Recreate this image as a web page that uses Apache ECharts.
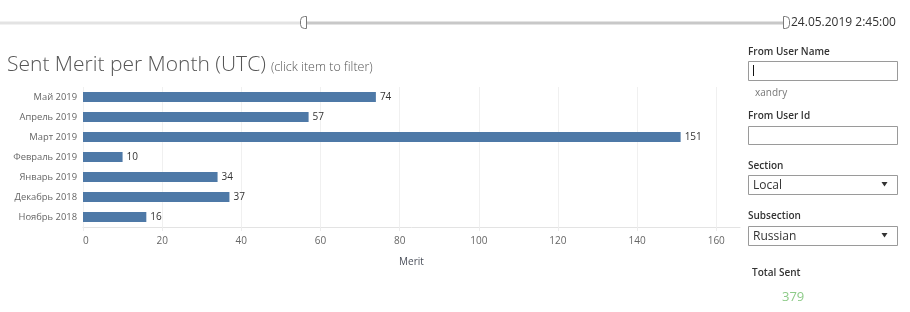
<!DOCTYPE html>
<html>
<head>
<meta charset="utf-8">
<script src="https://cdn.jsdelivr.net/npm/echarts@6/dist/echarts.min.js"></script>
<style>
html,body{margin:0;padding:0;background:#fff;}
#c{width:910px;height:312px;}
</style>
</head>
<body>
<div id="c"></div>
<script>
const months = ['Май 2019','Апрель 2019','Март 2019','Февраль 2019','Январь 2019','Декабрь 2018','Ноябрь 2018'];
const merit = [74, 57, 151, 10, 34, 37, 16];
const xTicks = [0, 20, 40, 60, 80, 100, 120, 140, 160];
const totalSent = 379;
const sliderDate = '24.05.2019 2:45:00';

const FONT = '"Open Sans", "Noto Sans", sans-serif';
const chart = echarts.init(document.getElementById('c'), null, {renderer: 'canvas'});

function label(x, y, text, opts) {
  return {
    type: 'text', left: x, top: y,
    style: Object.assign({text: text, fontFamily: FONT, fontSize: 10, fill: '#333', fontWeight: 600}, opts || {})
  };
}
function box(y, h) {
  return {type: 'rect', shape: {x: 748.5, y: y + 0.5, width: 149, height: h}, style: {fill: '#fff', stroke: '#9a9a9a', lineWidth: 1}};
}

chart.setOption({
  animation: false,
  title: {
    left: 2, top: 50,
    text: '{a|Sent Merit per Month (UTC)} {b|(click item to filter)}',
    textStyle: {
      rich: {
        a: {fontFamily: FONT, fontSize: 21, color: '#555', fontWeight: 300},
        b: {fontFamily: FONT, fontSize: 12.5, color: '#555', fontWeight: 300, padding: [3, 0, 0, 0]}
      }
    }
  },
  grid: [
    {left: 83, right: 170, top: 87, bottom: 85, containLabel: false},
    {left: 83, right: 193.75, top: 87, bottom: 85, containLabel: false}
  ],
  xAxis: [
    {
      type: 'value', gridIndex: 0, min: 0, max: 166, interval: 20,
      axisLine: {show: true, lineStyle: {color: '#e3e3e3', width: 1}},
      axisTick: {show: false},
      splitLine: {show: false},
      axisLabel: {color: '#666', fontFamily: FONT, fontSize: 10, margin: 9, showMaxLabel: false, alignMinLabel: 'left', padding: [0, 0, 0, 0]},
      name: 'Merit', nameLocation: 'middle', nameGap: 30,
      nameTextStyle: {color: '#4a4f5a', fontFamily: FONT, fontSize: 10}
    },
    {
      type: 'value', gridIndex: 1, min: xTicks[0], max: xTicks[xTicks.length - 1], interval: 20,
      axisLine: {show: false},
      axisTick: {show: true, length: 4, lineStyle: {color: '#ececec'}},
      axisLabel: {show: false},
      splitLine: {show: true, lineStyle: {color: '#f0f0f0', width: 1}}
    }
  ],
  yAxis: [
    {
      type: 'category', gridIndex: 0, data: months, inverse: true,
      axisLine: {show: false}, axisTick: {show: false},
      axisLabel: {color: '#666', fontFamily: FONT, fontSize: 9.4, margin: 6}
    },
    {
      type: 'category', gridIndex: 1, data: months, inverse: true, show: false
    }
  ],
  series: [{
    type: 'bar', xAxisIndex: 0, yAxisIndex: 0,
    data: merit, barCategoryGap: '50%',
    itemStyle: {color: '#4e79a7'},
    label: {show: true, position: 'right', distance: 4, color: '#333', fontFamily: FONT, fontSize: 10}
  }],
  graphic: [
    {type: 'rect', shape: {x: 0, y: 21.5, width: 300, height: 3}, style: {fill: '#e3e3e3'}},
    {type: 'rect', shape: {x: 305, y: 21.5, width: 480, height: 3}, style: {fill: '#c8c8c8'}},
    {type: 'rect', shape: {x: 300.5, y: 16.5, width: 6, height: 12, r: [4, 0, 0, 4]}, style: {fill: '#fff', stroke: '#7a7a7a', lineWidth: 1}},
    {type: 'rect', shape: {x: 783.5, y: 16.5, width: 6, height: 12, r: [0, 4, 4, 0]}, style: {fill: '#fff', stroke: '#7a7a7a', lineWidth: 1}},
    label(791, 17, sliderDate, {fontSize: 12, fontWeight: 'normal', fill: '#333'}),
    label(748, 47, 'From User Name'),
    box(61, 19),
    {type: 'rect', shape: {x: 753, y: 65, width: 1, height: 11}, style: {fill: '#111'}},
    label(755, 88, 'xandry', {fontWeight: 'normal', fill: '#777'}),
    label(748, 111, 'From User Id'),
    box(126, 18),
    label(748, 161, 'Section'),
    box(175, 19),
    label(753, 180, 'Local', {fontSize: 12, fontWeight: 'normal', fill: '#333'}),
    {type: 'polygon', shape: {points: [[881.5, 182], [887.5, 182], [884.5, 186.5]]}, style: {fill: '#333'}},
    label(748, 211, 'Subsection'),
    box(226, 19),
    label(753, 231, 'Russian', {fontSize: 12, fontWeight: 'normal', fill: '#333'}),
    {type: 'polygon', shape: {points: [[881.5, 233], [887.5, 233], [884.5, 237.5]]}, style: {fill: '#333'}},
    label(752, 268, 'Total Sent'),
    label(782, 291, String(totalSent), {fontSize: 13, fontWeight: 'normal', fill: '#8dcb88'})
  ]
});
</script>
</body>
</html>
